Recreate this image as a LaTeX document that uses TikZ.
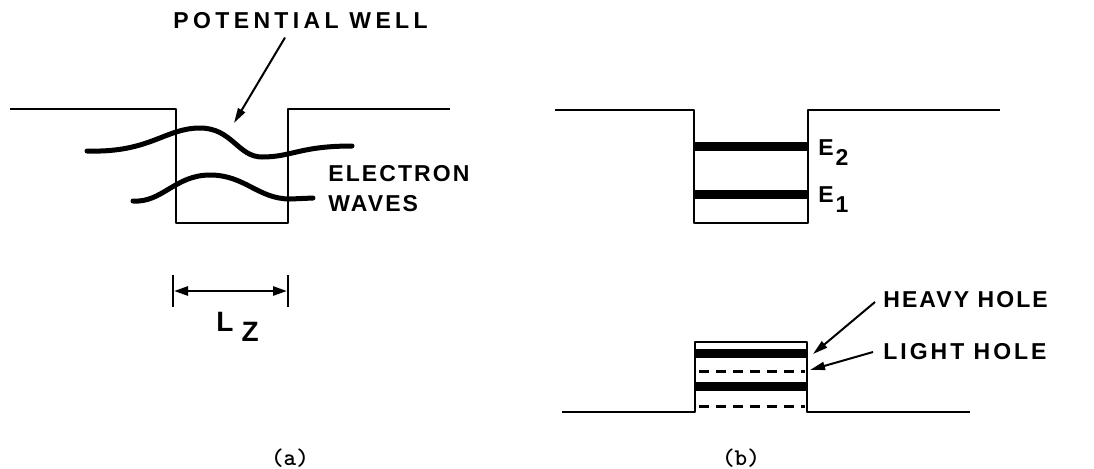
\documentclass[tikz,border=0pt]{standalone}
\usepackage{fontspec}
\setmainfont{Liberation Sans}
\usetikzlibrary{arrows.meta,positioning}

\begin{document}
\begin{tikzpicture}[
  x=0.5pt, y=-0.5pt,
  well/.style={line width=1.1pt, line join=round},
  wave/.style={line width=2.5pt, line cap=round},
  lvl/.style={line width=4.5pt},
  lhlvl/.style={line width=1.5pt, dash pattern=on 5pt off 3.5pt},
  lbl/.style={inner sep=0pt, anchor=west, align=left, font=\bfseries\fontsize{11.5}{15}\selectfont\addfontfeatures{LetterSpace=#1}},
  lbl/.default=0,
  subcap/.style={inner sep=0pt, font=\ttfamily\bfseries\fontsize{12}{14}\selectfont},
  arr/.style={-{Triangle[length=7.5pt, width=4pt]}, line width=1pt},
  dim/.style={{Triangle[length=7pt, width=4.5pt]}-{Triangle[length=7pt, width=4.5pt]}, line width=1.3pt}
]
  \useasboundingbox (0,0) rectangle (1094,468);

  % (a) potential well
  \draw[well] (10,109) -- (176,109) -- (176,223) -- (288,223) -- (288,109) -- (450,109);

  % electron waves
  \draw[wave] (87,151) .. controls (150,153) and (165,128) .. (200,128)
    .. controls (232,128) and (238,157) .. (262,157) .. controls (292,157) and (300,146) .. (352,146);
  \draw[wave] (133,201) .. controls (162,203) and (175,175) .. (210,175)
    .. controls (245,175) and (258,199) .. (290,199) -- (313,198);

  \node[lbl=19] (potwell) at (173,21) {POTENTIAL WELL};
  \coordinate (pwtip) at (234,123);
  \draw[arr] ([xshift=56pt, yshift=-4pt]potwell.south west) -- (pwtip);

  \node[lbl=9] (ewaves) at (328,189) {ELECTRON\\WAVES};

  % well width
  \draw[well, line width=1.4pt] (173,275) -- (173,307);
  \draw[well, line width=1.4pt] (288,275) -- (288,307);
  \coordinate (lzl) at (174,291);
  \coordinate (lzr) at (287,291);
  \draw[dim] (lzl) -- (lzr);
  \node[lbl, font=\bfseries\fontsize{14}{16}\selectfont] (lz) at (216,327) {L\hspace{4pt}\raisebox{-5pt}{Z}};

  \node[subcap] (capa) at (290,458) {(a)};

  % (b) conduction band
  \draw[well] (555,110) -- (694,110) -- (694,223) -- (808,223) -- (808,110) -- (1000,110);
  \draw[lvl] (694,146) -- (808,146);
  \draw[lvl] (694,194) -- (808,194);
  \node[lbl] (etwo) at (818,153) {E\hspace{1pt}\raisebox{-5pt}{2}};
  \node[lbl] (eone) at (818,200) {E\hspace{1pt}\raisebox{-5pt}{1}};

  % valence band
  \draw[well] (562,412) -- (695,412) -- (695,342) -- (807,342) -- (807,412) -- (970,412);
  \draw[lvl] (695,353) -- (807,353);
  \draw[lvl] (695,386) -- (807,386);
  \draw[lhlvl] (699,371) -- (805,371);
  \draw[lhlvl] (699,406) -- (805,406);

  \node[lbl=9] (heavy) at (883,300) {HEAVY HOLE};
  \node[lbl=13] (light) at (883,352) {LIGHT HOLE};
  \coordinate (hhtip) at (813,354);
  \coordinate (lhtip) at (810,370);
  \draw[arr] ([xshift=-4pt, yshift=-1pt]heavy.west) -- (hhtip);
  \draw[arr] ([xshift=-5pt]light.west) -- (lhtip);

  \node[subcap] (capb) at (741,458) {(b)};
\end{tikzpicture}
\end{document}
